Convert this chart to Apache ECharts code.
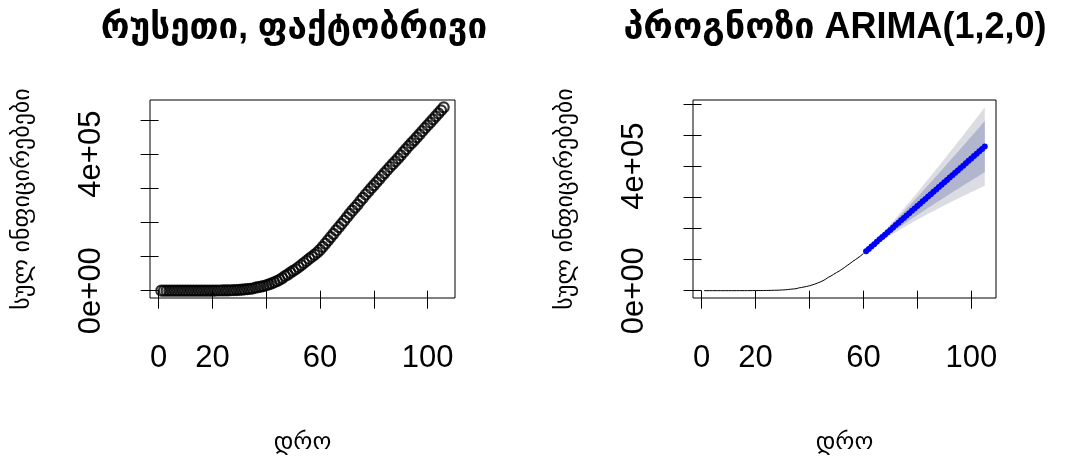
<!DOCTYPE html>
<html>
<head>
<meta charset="utf-8">
<script src="https://cdn.jsdelivr.net/npm/echarts@6/dist/echarts.min.js"></script>
<style>
  html, body { margin: 0; padding: 0; background: #fff; }
  #chart { width: 1070px; height: 457px; }
</style>
</head>
<body>
<div id="chart"></div>
<script>
// Cumulative confirmed cases, Russia, one value per day (day 1 .. 106)
const casesTotal = [
  3, 3, 3, 4, 13, 13, 17, 17, 20, 20,
  28, 45, 59, 63, 90, 114, 147, 199, 253, 306,
  367, 438, 495, 658, 840, 1036, 1264, 1534, 1836, 2337,
  2777, 3548, 4731, 5389, 6343, 8672, 10131, 11917, 13584, 15770,
  18328, 21102, 24490, 27938, 32008, 36793, 42853, 47121, 52763, 58000,
  62800, 68600, 74600, 81000, 87100, 93600, 99400, 105500, 112000, 119500,
  128500, 138000, 147500, 157000, 166500, 176500, 186000, 195500, 205000, 215000,
  225000, 234500, 243500, 252245, 262843, 272043, 281752, 290678, 299941, 308705,
  317554, 326448, 335882, 344481, 353427, 362342, 370680, 379051, 387623, 396575,
  405843, 414878, 423741, 432277, 440538, 449256, 458102, 467073, 476043, 484630,
  493023, 501800, 510761, 519458, 528267, 537210
];

// Days used to fit the model
const trainingDays = 60;

// ARIMA(1,2,0) point forecast for days 61 .. 105
const forecastMean = [
  126500, 134200, 141800, 149500, 157100, 164800, 172400, 180000, 187700, 195300,
  203000, 210600, 218300, 225900, 233600, 241200, 248800, 256500, 264100, 271800,
  279400, 287100, 294700, 302400, 310000, 317600, 325300, 332900, 340600, 348200,
  355900, 363500, 371200, 378800, 386400, 394100, 401700, 409400, 417000, 424700,
  432300, 440000, 447600, 455300, 463000
];

// Half widths of the 80% and 95% prediction intervals
const halfWidth80 = [
  600, 1400, 2400, 3500, 4700, 6000, 7300, 8700, 10200, 11600,
  13200, 14800, 16400, 18100, 19800, 21500, 23300, 25000, 26900, 28700,
  30600, 32500, 34400, 36400, 38400, 40400, 42400, 44500, 46600, 48700,
  50800, 52900, 55100, 57200, 59400, 61700, 63900, 66100, 68400, 70700,
  73000, 75300, 77700, 80000, 82400
];
const halfWidth95 = [
  900, 2200, 3700, 5400, 7200, 9200, 11200, 13300, 15600, 17800,
  20200, 22600, 25100, 27600, 30200, 32900, 35600, 38300, 41100, 43900,
  46800, 49700, 52600, 55600, 58700, 61700, 64800, 68000, 71200, 74400,
  77600, 80900, 84200, 87500, 90900, 94300, 97700, 101100, 104600, 108100,
  111700, 115200, 118800, 122400, 126000
];

// Tick positions and the labels that are printed
const xTicks = [0, 20, 40, 60, 80, 100];
const xTickLabels = [0, 20, 60, 100];
const yTicksLeft = [0, 100000, 200000, 300000, 400000, 500000];
const yTicksRight = [0, 100000, 200000, 300000, 400000, 500000, 600000];
const yTickLabels = [0, 400000];

const titleLeft = 'რუსეთი, ფაქტობრივი';
const titleRight = 'პროგნოზი ARIMA(1,2,0)';
const yName = 'სულ ინფიცირებები';
const xName = 'დრო';

// ---------------------------------------------------------------
const FONT = '"Liberation Sans", Arial, "DejaVu Sans", sans-serif';

const observed = casesTotal.map((v, i) => [i + 1, v]);
const fitted = casesTotal.slice(0, trainingDays).map((v, i) => [i + 1, v]);
const fcX = forecastMean.map((_, i) => trainingDays + 1 + i);
const fcLine = forecastMean.map((v, i) => [fcX[i], v]);
const band = (hw, sign) => forecastMean.map((v, i) => v + sign * hw[i]);
const lo95 = band(halfWidth95, -1), hi95 = band(halfWidth95, 1);
const lo80 = band(halfWidth80, -1), hi80 = band(halfWidth80, 1);

// R-style axis range: data range widened by 4% on each side
function padded(lo, hi) {
  const d = (hi - lo) * 0.04;
  return [lo - d, hi + d];
}
const xRangeL = padded(1, casesTotal.length);
const yRangeL = padded(Math.min(...casesTotal), Math.max(...casesTotal));
const xRangeR = padded(1, fcX[fcX.length - 1]);
const yRangeR = padded(Math.min(...casesTotal.slice(0, trainingDays), ...lo95), Math.max(...hi95));

function sci(v) {
  if (v === 0) return '0e+00';
  const e = Math.floor(Math.log10(Math.abs(v)));
  const m = Math.round(v / Math.pow(10, e));
  return m + 'e+' + String(e).padStart(2, '0');
}

function xAxisCfg(gridIndex, range) {
  return {
    type: 'value', gridIndex, min: range[0], max: range[1],
    name: xName, nameLocation: 'middle', nameGap: 132,
    nameTextStyle: { fontFamily: FONT, fontSize: 24, color: '#000' },
    axisLine: { show: false },
    splitLine: { show: false },
    axisTick: { show: true, inside: false, length: 18, customValues: xTicks,
                lineStyle: { color: '#000', width: 1 } },
    axisLabel: { show: true, customValues: xTickLabels, margin: 45,
                 fontFamily: FONT, fontSize: 31, color: '#000',
                 showMinLabel: true, showMaxLabel: true }
  };
}

function yAxisCfg(gridIndex, range, ticks) {
  return {
    type: 'value', gridIndex, min: range[0], max: range[1],
    name: yName, nameLocation: 'middle', nameGap: 116, nameRotate: 90,
    nameTextStyle: { fontFamily: FONT, fontSize: 24, color: '#000' },
    axisLine: { show: false },
    splitLine: { show: false },
    axisTick: { show: true, inside: false, length: 18, customValues: ticks,
                lineStyle: { color: '#000', width: 1 } },
    axisLabel: { show: true, customValues: yTickLabels, rotate: 90, margin: 43,
                 fontFamily: FONT, fontSize: 31, color: '#000',
                 formatter: v => sci(v) }
  };
}

// Shaded prediction band drawn as one polygon through the axis scales
function bandSeries(lower, upper, color, z) {
  return {
    type: 'custom', xAxisIndex: 1, yAxisIndex: 1, z, silent: true,
    data: [0],
    renderItem: (params, api) => {
      const pts = [];
      for (let i = 0; i < fcX.length; i++) pts.push(api.coord([fcX[i], upper[i]]));
      for (let i = fcX.length - 1; i >= 0; i--) pts.push(api.coord([fcX[i], lower[i]]));
      return { type: 'polygon', shape: { points: pts }, style: { fill: color } };
    }
  };
}

const chart = echarts.init(document.getElementById('chart'), null, { renderer: 'canvas' });
chart.setOption({
  animation: false,
  backgroundColor: '#fff',
  grid: [
    { left: 150, top: 100, width: 305, height: 198, show: true,
      borderColor: '#000', borderWidth: 1, backgroundColor: 'transparent' },
    { left: 693, top: 100, width: 303, height: 198, show: true,
      borderColor: '#000', borderWidth: 1, backgroundColor: 'transparent' }
  ],
  xAxis: [xAxisCfg(0, xRangeL), xAxisCfg(1, xRangeR)],
  yAxis: [yAxisCfg(0, yRangeL, yTicksLeft), yAxisCfg(1, yRangeR, yTicksRight)],
  graphic: [
    { type: 'text', x: 294, y: 28, style: { text: titleLeft, fontFamily: FONT,
      fontWeight: 'bold', fontSize: 35, fill: '#000', align: 'center', verticalAlign: 'middle' } },
    { type: 'text', x: 835, y: 28, style: { text: titleRight, fontFamily: FONT,
      fontWeight: 'bold', fontSize: 36, fill: '#000', align: 'center', verticalAlign: 'middle' } }
  ],
  series: [
    {
      type: 'scatter', xAxisIndex: 0, yAxisIndex: 0, data: observed,
      symbol: 'circle', symbolSize: 10, silent: true,
      itemStyle: { color: 'rgba(0,0,0,0)', borderColor: '#000', borderWidth: 2.2 }
    },
    bandSeries(lo95, hi95, '#dcdce3', 1),
    bandSeries(lo80, hi80, '#b1b5cd', 2),
    {
      type: 'line', xAxisIndex: 1, yAxisIndex: 1, data: fitted, z: 3,
      showSymbol: false, silent: true, lineStyle: { color: '#000', width: 1 }
    },
    {
      type: 'line', xAxisIndex: 1, yAxisIndex: 1, data: fcLine, z: 4,
      symbol: 'circle', symbolSize: 6, showSymbol: true, silent: true,
      itemStyle: { color: '#0000ff' },
      lineStyle: { color: '#0000ff', width: 3.5 }
    }
  ]
});
</script>
</body>
</html>
